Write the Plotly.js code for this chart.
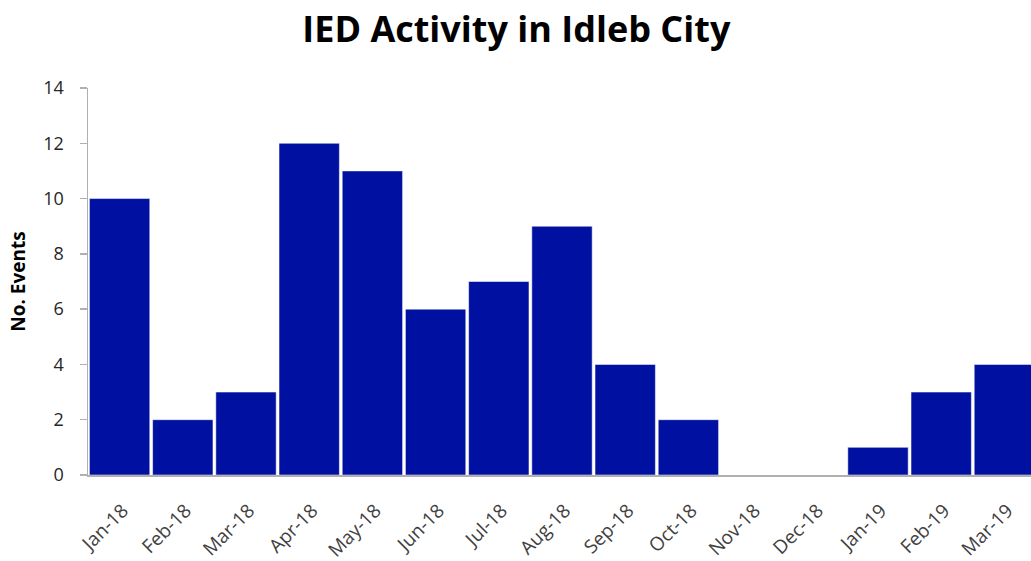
<!DOCTYPE html>
<html>
<head>
<meta charset="utf-8">
<script src="https://cdn.plot.ly/plotly-3.0.1.min.js"></script>
<style>
html,body{margin:0;padding:0;overflow:hidden;background:#fff;width:1031px;height:561px;}
#chart{width:1040px;height:561px;}
</style>
</head>
<body>
<div id="chart"></div>
<script>
const months = ["Jan-18","Feb-18","Mar-18","Apr-18","May-18","Jun-18","Jul-18","Aug-18","Sep-18","Oct-18","Nov-18","Dec-18","Jan-19","Feb-19","Mar-19"];
const events = [10,2,3,12,11,6,7,9,4,2,0,0,1,3,4];
const yTicks = [0,2,4,6,8,10,12,14];

const trace = {
  type: "bar",
  x: months,
  y: events,
  marker: {color: "#0010A0", line: {color: "rgba(255,255,255,0.5)", width: 1}},
  hoverinfo: "x+y"
};

const layout = {
  width: 1040,
  height: 561,
  margin: {l: 88, r: 4, t: 88, b: 86},
  paper_bgcolor: "#fff",
  plot_bgcolor: "#fff",
  bargap: 0.045,
  showlegend: false,
  title: {
    text: "<b>IED Activity in Idleb City</b>",
    font: {family: "Open Sans, sans-serif", size: 36, color: "#000"},
    x: 0.4965, xanchor: "center", y: 0.948, yanchor: "middle"
  },
  xaxis: {
    type: "category",
    range: [-0.5, 14.5],
    showline: true, linecolor: "#b0b0b0", linewidth: 2,
    ticks: "", showgrid: false, zeroline: false,
    tickangle: -45,
    ticklabelstandoff: 15,
    ticklabelshift: 3,
    tickfont: {family: "Open Sans, sans-serif", size: 19, color: "#404040"},
    fixedrange: true
  },
  yaxis: {
    range: [0, 14],
    tickvals: yTicks,
    ticktext: yTicks.map(String),
    showline: true, linecolor: "#b0b0b0", linewidth: 1.5,
    ticks: "outside", ticklen: 7, tickcolor: "#b0b0b0", tickwidth: 1.5,
    ticklabelstandoff: 12,
    showgrid: false, zeroline: false,
    tickfont: {family: "Open Sans, sans-serif", size: 18, color: "#262626"},
    title: {text: "<b>No. Events</b>", font: {family: "Open Sans, sans-serif", size: 19, color: "#000"}, standoff: 12},
    fixedrange: true
  }
};

Plotly.newPlot("chart", [trace], layout, {displayModeBar: false, staticPlot: true});
</script>
</body>
</html>
